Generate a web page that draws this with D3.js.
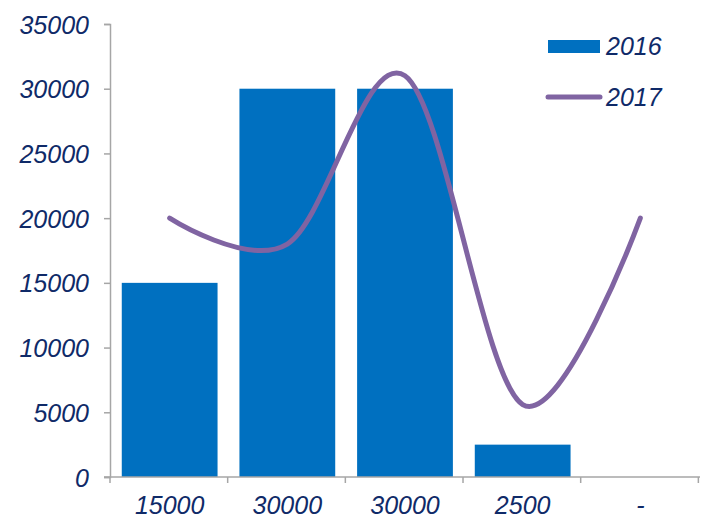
<!DOCTYPE html>
<html>
<head>
<meta charset="utf-8">
<script src="https://cdn.jsdelivr.net/npm/d3@7"></script>
<style>
    body { margin: 0; background: #fff; }
    svg { display: block; }
    .tick text, .legend text { font-family: Arial, "Liberation Sans", sans-serif; font-style: italic; fill: #0F2A68; }
</style>
</head>
<body>
<svg></svg>
<script>
document.addEventListener('DOMContentLoaded', function() {

// categories (x labels), bars for 2016, smoothed line for 2017
let categories = ["15000", "30000", "30000", "2500", "-"];
let values2016 = [15000, 30000, 30000, 2500, 0];
let values2017 = [20000, 18000, 31000, 5600, 20000];
let yTicks = [0, 5000, 10000, 15000, 20000, 25000, 30000, 35000];
let seriesNames = ["2016", "2017"];

let width = 706;
let height = 519;

let svg = d3.select("svg")
    .attr("width", width)
    .attr("height", height);

let x = d3.scaleBand()
    .domain(d3.range(categories.length))
    .range([110, 700])
    .paddingInner(0.186)
    .paddingOuter(0.1);

let y = d3.scaleLinear()
    .domain([0, 35000])
    .range([477, 24]);

// y axis
let yAxis = svg.append("g")
    .attr("transform", "translate(110,0)")
    .call(d3.axisLeft(y).tickValues(yTicks).tickFormat(d3.format("d")).tickSize(6).tickPadding(15));
yAxis.select(".domain").attr("stroke", "#A6A6A6").attr("stroke-width", 1.5);
yAxis.selectAll(".tick line").attr("stroke", "#A6A6A6").attr("stroke-width", 1.5);
yAxis.selectAll(".tick text").style("font-size", "25px").attr("dy", "0.36em");

// bars
svg.append("g")
    .selectAll("rect")
    .data(values2016)
    .enter().append("rect")
    .attr("x", function(d, i) { return x(i); })
    .attr("y", function(d) { return y(d); })
    .attr("width", x.bandwidth())
    .attr("height", function(d) { return y(0) - y(d); })
    .attr("fill", "#0070C0");

// x axis (ticks between categories)
let xAxis = svg.append("g").attr("transform", "translate(0," + y(0) + ")");
let step = x.step();
let boundaries = d3.range(categories.length + 1).map(function(i) { return 110 + i * step; });
xAxis.append("line")
    .attr("x1", 104).attr("x2", 700)
    .attr("stroke", "#A6A6A6").attr("stroke-width", 1.5);
xAxis.selectAll(".btick")
    .data(boundaries)
    .enter().append("line")
    .attr("x1", function(d) { return d; })
    .attr("x2", function(d) { return d; })
    .attr("y1", 0).attr("y2", 6)
    .attr("stroke", "#A6A6A6").attr("stroke-width", 1.5);
xAxis.selectAll(".tick")
    .data(categories)
    .enter().append("g")
    .attr("class", "tick")
    .append("text")
    .attr("x", function(d, i) { return x(i) + x.bandwidth() / 2; })
    .attr("y", 37)
    .attr("text-anchor", "middle")
    .style("font-size", "25px")
    .text(function(d) { return d; });

// 2017 smoothed line
let line = d3.line()
    .x(function(d, i) { return x(i) + x.bandwidth() / 2; })
    .y(function(d) { return y(d); })
    .curve(d3.curveCardinal.tension(0));

svg.append("path")
    .datum(values2017)
    .attr("d", line)
    .attr("fill", "none")
    .attr("stroke", "#8064A2")
    .attr("stroke-width", 5)
    .attr("stroke-linecap", "round");

// legend
let legend = svg.append("g").attr("class", "legend");
legend.append("rect")
    .attr("x", 548).attr("y", 40)
    .attr("width", 52).attr("height", 13)
    .attr("fill", "#0070C0");
legend.append("text")
    .attr("x", 606).attr("y", 55)
    .style("font-size", "25px")
    .text(seriesNames[0]);
legend.append("line")
    .attr("x1", 548).attr("x2", 600)
    .attr("y1", 97).attr("y2", 97)
    .attr("stroke", "#8064A2")
    .attr("stroke-width", 5)
    .attr("stroke-linecap", "round");
legend.append("text")
    .attr("x", 606).attr("y", 106)
    .style("font-size", "25px")
    .text(seriesNames[1]);

});
</script>
</body>
</html>
